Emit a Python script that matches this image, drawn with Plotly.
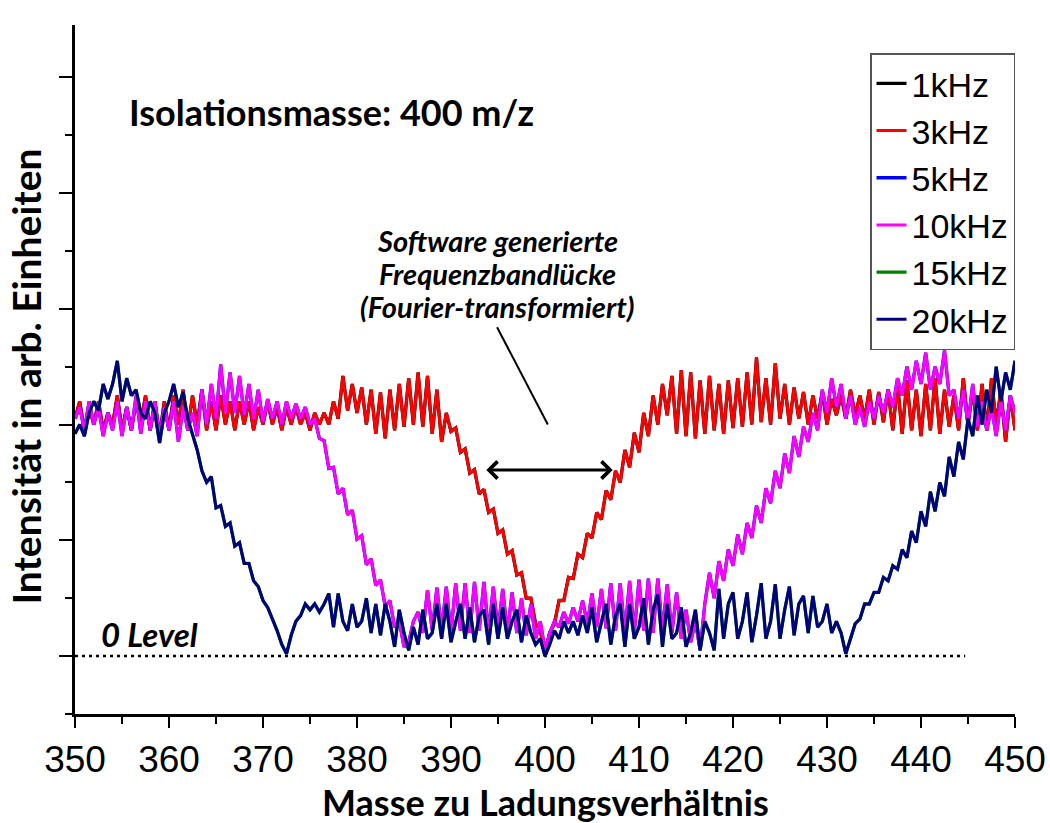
import numpy as np
import plotly.graph_objects as go

# m/z grid, one sample every 0.5
mz = np.arange(350.0, 450.0 + 0.25, 0.5)

# 3 kHz notch (narrow gap around 400)
int_3khz = [
    2.05, 2.2, 1.95, 2.15, 2.0, 2.2, 1.95, 2.1, 2.0, 2.25,
    1.95, 2.15, 1.95, 2.2, 2.0, 2.25, 1.95, 2.2, 1.9, 2.2,
    1.95, 2.25, 2.0, 2.3, 1.95, 2.25, 2.0, 2.3, 1.95, 2.2,
    1.95, 2.25, 2.0, 2.2, 1.95, 2.2, 2.0, 2.2, 1.95, 2.15,
    2.0, 2.2, 2.0, 2.15, 1.95, 2.15, 2.0, 2.15, 2.0, 2.1,
    1.95, 2.1, 2.0, 2.1, 2.0, 2.2,
    2.05, 2.42, 2.12, 2.35, 2.1, 2.32, 2.0, 2.3, 1.92, 2.28,
    1.88, 2.3, 1.95, 2.35, 1.98, 2.4, 2.0, 2.45, 1.98, 2.42,
    1.92, 2.3, 1.85, 2.1, 1.94, 1.97, 1.76, 1.79, 1.58, 1.61,
    1.40, 1.44, 1.24, 1.27, 1.06, 1.09, 0.88, 0.91, 0.70, 0.72,
    0.50, 0.50, 0.28, 0.22, 0.03, 0.2, 0.28, 0.48, 0.48, 0.68,
    0.67, 0.88, 0.85, 1.06, 1.02, 1.24, 1.18, 1.43, 1.35, 1.6,
    1.5, 1.78, 1.63, 1.93, 1.76, 2.1, 1.9, 2.25, 2.0, 2.35,
    2.08, 2.42, 1.92, 2.47, 1.9, 2.45, 1.88, 2.38, 1.92, 2.42,
    1.95, 2.35, 1.92, 2.38, 1.97, 2.4, 1.98, 2.45, 2.0, 2.58,
    2.02, 2.4, 2.0, 2.53, 2.05, 2.35, 2.0, 2.32, 2.05, 2.28,
    2.0, 2.25, 2.05, 2.28, 2.0, 2.22, 2.08, 2.25, 2.05, 2.3,
    2.08, 2.25, 2.05, 2.3, 2.0, 2.28, 2.02, 2.3, 1.95, 2.35,
    1.92, 2.38, 1.95, 2.3, 1.9, 2.35, 1.95, 2.4, 1.92, 2.3,
    1.98, 2.25, 1.95, 2.4, 2.0, 2.3, 1.95, 2.35, 1.95, 2.4,
    2.0, 2.3, 1.85, 2.25, 1.95,
]
# 1 kHz runs on top of the 3 kHz trace
int_1khz = list(int_3khz)

# 10 kHz notch
int_10khz = [
    2.05, 2.15, 1.95, 2.2, 2.0, 2.15, 1.9, 2.1, 1.95, 2.2,
    1.9, 2.15, 1.95, 2.25, 1.92, 2.2, 1.95, 2.2, 1.9, 2.15,
    1.95, 2.2, 1.85, 2.15, 1.95, 2.1, 1.9, 2.3, 2.0, 2.35,
    2.05, 2.52, 2.1, 2.45, 2.1, 2.42, 2.08, 2.35, 2.05, 2.3,
    2.02, 2.22, 2.05, 2.2, 2.0, 2.2, 2.05, 2.18, 2.05, 2.15,
    2.0, 2.05, 1.88, 1.86, 1.62, 1.63, 1.4, 1.45, 1.22, 1.26,
    1.01, 1.04, 0.79, 0.84, 0.61, 0.66, 0.43, 0.48, 0.25, 0.3,
    0.08, 0.12, 0.3, 0.38, 0.2, 0.57, 0.22, 0.59, 0.22, 0.6,
    0.2, 0.63, 0.22, 0.63, 0.2, 0.64, 0.22, 0.64, 0.2, 0.6,
    0.22, 0.58, 0.2, 0.55, 0.2, 0.5, 0.18, 0.45, 0.15, 0.3,
    0.05, 0.2, 0.3, 0.25, 0.38, 0.28, 0.42, 0.3, 0.48, 0.28,
    0.54, 0.25, 0.58, 0.24, 0.63, 0.22, 0.63, 0.2, 0.65, 0.2,
    0.66, 0.22, 0.67, 0.2, 0.67, 0.22, 0.62, 0.2, 0.55, 0.15,
    0.4, 0.12, 0.3, 0.05, 0.45, 0.72, 0.5, 0.82, 0.65, 0.92,
    0.78, 1.05, 0.88, 1.15, 1.02, 1.3, 1.15, 1.45, 1.32, 1.6,
    1.45, 1.75, 1.58, 1.9, 1.72, 1.98, 1.85, 2.1, 1.95, 2.3,
    2.1, 2.4, 2.15, 2.35, 2.05, 2.25, 2.0, 2.15, 1.98, 2.2,
    2.05, 2.25, 2.1, 2.3, 2.15, 2.4, 2.25, 2.5, 2.3, 2.55,
    2.35, 2.62, 2.3, 2.5, 2.35, 2.64, 2.25, 2.3, 2.05, 2.3,
    2.0, 2.35, 1.98, 2.2, 1.95, 2.15, 1.9, 2.2, 1.95, 2.25,
    2.1,
]
# 5 kHz runs on top of the 10 kHz trace
int_5khz = list(int_10khz)

# 20 kHz notch (widest gap)
int_20khz = [
    1.92, 2.0, 1.9, 2.1, 2.2, 2.12, 2.35, 2.22, 2.35, 2.55,
    2.2, 2.4, 2.25, 2.3, 2.1, 2.05, 2.2, 2.1, 1.84, 2.1,
    2.2, 2.35, 2.15, 2.28, 2.05, 1.92, 1.78, 1.6, 1.5, 1.55,
    1.28, 1.3, 1.12, 1.15, 0.95, 0.98, 0.8, 0.8, 0.65, 0.6,
    0.48, 0.42, 0.32, 0.22, 0.1, 0.02, 0.18, 0.3, 0.35, 0.45,
    0.4, 0.45, 0.38, 0.45, 0.54, 0.25, 0.54, 0.3, 0.22, 0.45,
    0.25, 0.3, 0.5, 0.2, 0.45, 0.18, 0.45, 0.3, 0.08, 0.4,
    0.2, 0.05, 0.25, 0.1, 0.4, 0.15, 0.2, 0.45, 0.15, 0.45,
    0.12, 0.3, 0.45, 0.15, 0.42, 0.12, 0.35, 0.4, 0.1, 0.45,
    0.15, 0.42, 0.15, 0.3, 0.4, 0.12, 0.35, 0.2, 0.1, 0.15,
    0.0, 0.1, 0.22, 0.15, 0.3, 0.2, 0.3, 0.18, 0.35, 0.2,
    0.42, 0.12, 0.3, 0.45, 0.1, 0.35, 0.45, 0.08, 0.45, 0.15,
    0.25, 0.5, 0.1, 0.4, 0.53, 0.08, 0.45, 0.15, 0.2, 0.42,
    0.08, 0.2, 0.4, 0.05, 0.3, 0.2, 0.05, 0.58, 0.15, 0.45,
    0.55, 0.15, 0.3, 0.55, 0.12, 0.35, 0.63, 0.15, 0.3, 0.62,
    0.15, 0.4, 0.6, 0.18, 0.45, 0.52, 0.2, 0.52, 0.25, 0.3,
    0.45, 0.2, 0.3, 0.2, 0.02, 0.15, 0.28, 0.32, 0.45, 0.45,
    0.55, 0.55, 0.68, 0.65, 0.78, 0.75, 0.92, 0.85, 1.08, 0.98,
    1.25, 1.12, 1.42, 1.25, 1.5, 1.38, 1.72, 1.55, 1.85, 1.7,
    2.05, 1.9, 2.25, 2.0, 2.3, 2.1, 2.5, 2.2, 2.45, 2.3,
    2.55,
]
# 15 kHz runs on top of the 20 kHz trace
int_15khz = list(int_20khz)

series_names = ["1kHz", "3kHz", "5kHz", "10kHz", "15kHz", "20kHz"]
series_values = [int_1khz, int_3khz, int_5khz, int_10khz, int_15khz, int_20khz]
series_colors = ["#000000", "#ff0000", "#0000ff", "#ff00ff", "#008000", "#000080"]
series_widths = [3.3, 3.0, 3.3, 3.0, 3.3, 3.0]

x_ticks = list(range(350, 451, 10))

BOLD_FONT = "Lato"
PLAIN_FONT = "Liberation Sans"

fig = go.Figure()
for name, vals, color, w in zip(series_names, series_values, series_colors, series_widths):
    fig.add_trace(go.Scatter(
        x=mz, y=vals, mode="lines", name=name,
        line=dict(color=color, width=w),
    ))

# zero-intensity reference line
fig.add_shape(type="line", xref="x", yref="y", x0=350, x1=444.7, y0=0, y1=0,
              line=dict(color="black", width=2.5, dash="3px,4px"), layer="below")

# pointer from the caption to the gap
fig.add_shape(type="line", xref="x", yref="y", x0=394.9, y0=2.84, x1=400.3, y1=2.0,
              line=dict(color="black", width=2))

annotations = [
    # gap width arrow (double headed)
    dict(x=407.2, y=1.607, ax=393.6, ay=1.607, xref="x", yref="y", axref="x", ayref="y",
         text="", showarrow=True, arrowhead=4, arrowsize=1.1, arrowwidth=3,
         arrowside="end+start", arrowcolor="black"),
    dict(x=377.3, y=4.70, xref="x", yref="y", text="<b>Isolationsmasse: 400 m/z</b>",
         showarrow=False, font=dict(family=BOLD_FONT, size=36, color="black")),
    dict(x=394.9, y=3.593, xref="x", yref="y", text="<b><i>Software generierte</i></b>",
         showarrow=False, font=dict(family=BOLD_FONT, size=29, color="black")),
    dict(x=394.9, y=3.308, xref="x", yref="y", text="<b><i>Frequenzbandlücke</i></b>",
         showarrow=False, font=dict(family=BOLD_FONT, size=29, color="black")),
    dict(x=394.9, y=3.023, xref="x", yref="y", text="<b><i>(Fourier-transformiert)</i></b>",
         showarrow=False, font=dict(family=BOLD_FONT, size=29, color="black")),
    dict(x=352.6, y=0.19, xref="x", yref="y", xanchor="left", text="<b><i>0 Level</i></b>",
         showarrow=False, font=dict(family=BOLD_FONT, size=33, color="black")),
    # axis titles
    dict(x=0.5, y=-0.127, xref="paper", yref="paper", yanchor="middle",
         text="<b>Masse zu Ladungsverhältnis</b>", showarrow=False,
         font=dict(family=BOLD_FONT, size=36, color="black")),
    dict(x=-0.052, y=0.49, xref="paper", yref="paper", xanchor="center", textangle=-90,
         text="<b>Intensität in arb. Einheiten</b>", showarrow=False,
         font=dict(family=BOLD_FONT, size=39, color="black")),
]

fig.update_layout(
    width=1050, height=823,
    margin=dict(l=75, r=35, t=25, b=109, autoexpand=False),
    paper_bgcolor="white", plot_bgcolor="white",
    showlegend=True,
    legend=dict(
        x=1.0, xanchor="right", y=0.959, yanchor="top",
        bgcolor="white", bordercolor="#555555", borderwidth=1.5,
        font=dict(family=PLAIN_FONT, size=34, color="black"),
        itemwidth=30, traceorder="normal",
    ),
    annotations=annotations,
    xaxis=dict(
        range=[350, 450], tickmode="array", tickvals=x_ticks,
        ticktext=[str(t) for t in x_ticks], automargin=False,
        ticks="outside", ticklen=11, tickwidth=2, tickcolor="black",
        showline=True, linewidth=2.5, linecolor="black",
        showgrid=False, zeroline=False,
        tickfont=dict(family=PLAIN_FONT, size=37, color="black"),
        minor=dict(tick0=350, dtick=5, ticks="outside", ticklen=7, tickwidth=2, tickcolor="black"),
    ),
    yaxis=dict(
        range=[-0.5, 5.45], tickmode="linear", tick0=0, dtick=1, automargin=False,
        ticks="outside", ticklen=13, tickwidth=2, tickcolor="black",
        showline=True, linewidth=2.5, linecolor="black",
        showgrid=False, zeroline=False, showticklabels=False,
        minor=dict(tick0=0, dtick=0.5, ticks="outside", ticklen=7, tickwidth=2, tickcolor="black"),
    ),
)

fig.write_html("out.html")
